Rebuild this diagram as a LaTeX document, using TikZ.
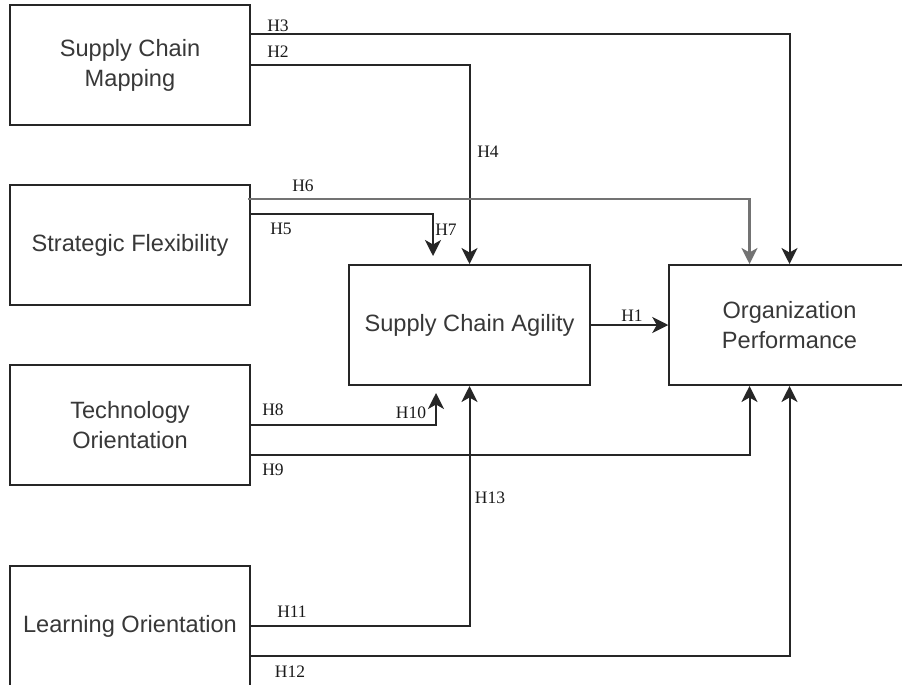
\documentclass[tikz,border=0pt]{standalone}
\usepackage{fontspec}
\setmainfont{Liberation Serif}
\newfontfamily\boxfont{Liberation Sans}
\usetikzlibrary{arrows.meta,calc}

\tikzset{
  construct/.style={draw=black!85, line width=2pt, fill=white,
    minimum width=240.5pt, minimum height=120pt, inner sep=0pt,
    align=center, text=black!78,
    font=\boxfont\fontsize{23.6}{30}\selectfont},
  path/.style={draw=black!85, line width=2pt},
  link/.style={path, -{Stealth[length=16pt, width=16pt, inset=4.5pt]}},
  hyp/.style={inner sep=0pt, text=black!90,
    font=\fontsize{17.5}{18}\selectfont},
}

\begin{document}
\begin{tikzpicture}[x=1pt, y=-1pt]
  \useasboundingbox (0,0) rectangle (902,685);
  \clip (0,0) rectangle (902,685);
  \fill[white] (0,0) rectangle (902,685);

  % constructs
  \node[construct] (scm) at (130,65)  {Supply Chain\\Mapping};
  \node[construct] (sf)  at (130,245) {Strategic Flexibility};
  \node[construct] (to)  at (130,425) {Technology\\Orientation};
  \node[construct] (lo)  at (130,626) {Learning Orientation};
  \node[construct] (sca) at (469.5,325) {Supply Chain Agility};
  \node[construct] (op)  at (789.5,325) {Organization\\Performance};

  % hypothesised paths (yshift is in page units: negative moves down)
  \draw[link] ([yshift=-30pt]scm.north east) -| (op.north);
  \draw[link] (scm.east) -| (sca.north);
  \draw[link, draw=black!55, line width=2.4pt]
    ([xshift=-3pt,yshift=-15pt]sf.north east) -| ([xshift=-40pt]op.north);
  \draw[link] ([yshift=-30pt]sf.north east) -| ([xshift=-36.5pt,yshift=8pt]sca.north);
  \draw[link] (to.east) -| ([xshift=-33.5pt,yshift=-7pt]sca.south);
  \draw[link] ([yshift=-30pt]to.east) -| ([xshift=-40pt]op.south);
  \draw[link] (lo.east) -| (sca.south);
  \draw[link] ([yshift=-30pt]lo.east) -| (op.south);
  \draw[link] (sca.east) -- (op.west);

  % path labels
  \node[hyp] (h1)  at (632,316) {H1};
  \node[hyp] (h2)  at (278,52)  {H2};
  \node[hyp] (h3)  at (278,26)  {H3};
  \node[hyp] (h4)  at (488,152) {H4};
  \node[hyp] (h5)  at (281,229) {H5};
  \node[hyp] (h6)  at (303,186) {H6};
  \node[hyp] (h7)  at (446,230) {H7};
  \node[hyp] (h8)  at (273,410) {H8};
  \node[hyp] (h9)  at (273,470) {H9};
  \node[hyp] (h10) at (411,413) {H10};
  \node[hyp] (h11) at (292,612) {H11};
  \node[hyp] (h12) at (290,672) {H12};
  \node[hyp] (h13) at (490,498) {H13};
\end{tikzpicture}
\end{document}
